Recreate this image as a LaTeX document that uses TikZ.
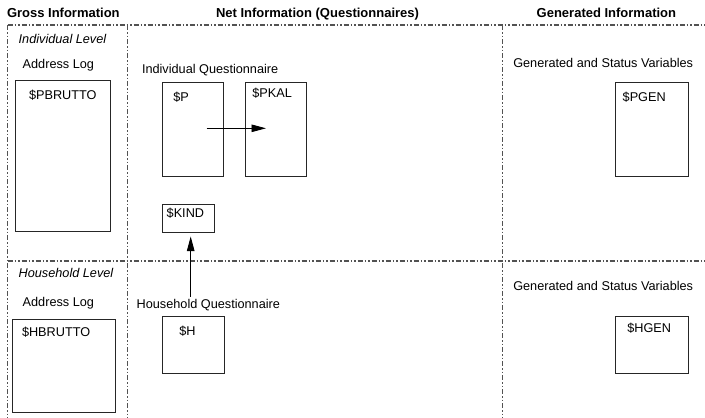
\documentclass[tikz,border=0pt]{standalone}
\usepackage{fontspec}
\setmainfont{Liberation Sans}
\usetikzlibrary{arrows.meta}

\tikzset{
  txt/.style={anchor=base west, inner sep=0pt, outer sep=0pt,
    font=\fontsize{12.7}{15}\selectfont},
  head/.style={anchor=base west, inner sep=0pt, outer sep=0pt,
    font=\fontsize{13}{15}\selectfont\bfseries},
  lvl/.style={txt, font=\fontsize{12.7}{15}\selectfont\itshape},
  tbl/.style={draw=black!85, line width=1pt, rectangle, inner sep=0pt,
    outer sep=0pt},
  divider/.style={draw=black!68, line width=1.1pt,
    dash pattern=on 5pt off 2pt on 1.5pt off 2pt on 1.5pt off 2pt},
  flow/.style={draw=black, line width=0.9pt,
    -{Triangle[length=14.5pt,width=7.5pt]}}
}

\begin{document}
\begin{tikzpicture}[x=1pt,y=-1pt]
\useasboundingbox (0,0) rectangle (705,418);

% column headers
\node[head] (hgross) at (7,17.3) {Gross Information};
\node[head] (hnet) at (216,17.3) {Net Information (Questionnaires)};
\node[head] (hgenr) at (536.7,17.3) {Generated Information};

% grid of dash-dot-dot dividers
\coordinate (tl) at (7.5,25);
\coordinate (tr) at (705,25);
\coordinate (ml) at (7.5,261);
\coordinate (mr) at (705,261);
\coordinate (v1t) at (7.5,25);   \coordinate (v1b) at (7.5,418);
\coordinate (v2t) at (127.3,25); \coordinate (v2b) at (127.3,418);
\coordinate (v3t) at (502.3,25); \coordinate (v3b) at (502.3,418);
\draw[divider] (tl) -- (tr);
\draw[divider] (ml) -- (mr);
\draw[divider] (v1t) -- (v1b);
\draw[divider] (v2t) -- (v2b);
\draw[divider] (v3t) -- (v3b);

% individual level
\node[lvl] (indlvl) at (18.7,43.5) {Individual Level};
\node[txt] (addr1) at (22.7,68.5) {Address Log};
\node[tbl, minimum width=94.6pt, minimum height=150.7pt] (pbrutto) at (63,155.65) {};
\node[txt] (pbruttol) at (29,99.5) {\$PBRUTTO};

\node[txt] (indq) at (142,73.5) {Individual Questionnaire};
\node[tbl, minimum width=61pt, minimum height=93.7pt] (p) at (192.8,129.15) {};
\node[txt] (pl) at (173.3,101.5) {\$P};
\node[tbl, minimum width=61.7pt, minimum height=93.7pt] (pkal) at (275.85,129.15) {};
\node[txt] (pkall) at (252.3,97.5) {\$PKAL};
\node[tbl, minimum width=51.7pt, minimum height=28.3pt] (kind) at (188.15,218.15) {};
\node[txt] (kindl) at (166.7,217.2) {\$KIND};

\node[txt] (gen1) at (513.3,67.8) {Generated and Status Variables};
\node[tbl, minimum width=73pt, minimum height=93.7pt] (pgen) at (651.8,129.15) {};
\node[txt] (pgenl) at (622.7,101.2) {\$PGEN};

% household level
\node[lvl] (hhlvl) at (18.7,277.8) {Household Level};
\node[txt] (addr2) at (22.7,306.2) {Address Log};
\node[tbl, minimum width=102.3pt, minimum height=93.7pt] (hbrutto) at (63.85,365.85) {};
\node[txt] (hbruttol) at (22,336.8) {\$HBRUTTO};

\node[txt] (hhq) at (136.7,308.2) {Household Questionnaire};
\node[tbl, minimum width=62pt, minimum height=56.6pt] (h) at (193.3,345) {};
\node[txt] (hl) at (179.3,335.2) {\$H};

\node[txt] (gen2) at (513.3,290.5) {Generated and Status Variables};
\node[tbl, minimum width=73pt, minimum height=56.6pt] (hgen) at (651.8,345) {};
\node[txt] (hgenl) at (627.3,332.8) {\$HGEN};

% links
\coordinate (ps) at (206.7,128.3);
\coordinate (pe) at (266,128.3);
\draw[flow] (ps) -- (pe);
\coordinate (ks) at (190.7,296.7);
\coordinate (ke) at (190.7,236.5);
\draw[flow] (ks) -- (ke);
\end{tikzpicture}
\end{document}
